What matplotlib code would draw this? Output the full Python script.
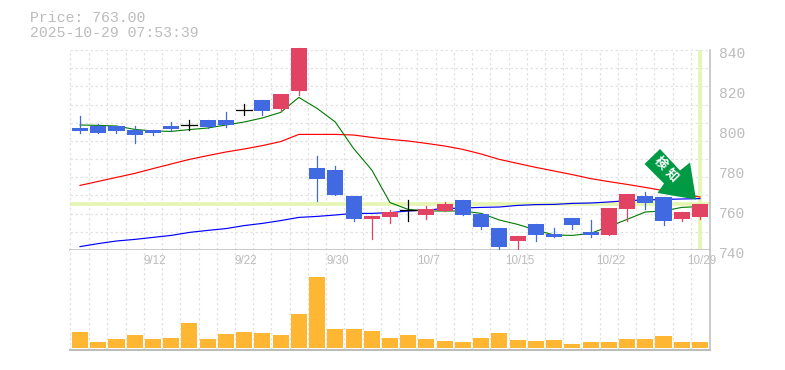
import matplotlib
matplotlib.use("Agg")
import matplotlib.pyplot as plt
from matplotlib.patches import Polygon
from matplotlib.transforms import Affine2D
import numpy as np

plt.rcParams['font.family'] = ['Liberation Mono', 'Noto Sans CJK JP', 'DejaVu Sans']

# ohlc
opens = [801, 802, 802, 800, 800, 802, 802.7, 805, 805, 810, 815, 810.5, 819.5, 781, 780, 767, 755.5, 756.5,
         760, 757.5, 759.5, 765, 758, 751, 744.5, 753, 748, 756, 749, 747.5, 760.5, 767, 766.7, 755.5, 756.5]
closes = [799.5, 798.5, 799.5, 797.5, 798.5, 800.5, 802.7, 801.5, 802.5, 810, 809.5, 818, 841, 775.5, 767.5, 755.5, 757, 759,
          760, 760.3, 763, 757.5, 751.5, 741.5, 747, 747.5, 746.5, 752.5, 747.5, 761, 768, 763.5, 754.5, 759, 763]
highs = [807, 803, 802, 802, 800, 804, 805, 805, 809, 813, 815, 818, 841, 787, 782, 767, 757, 760,
         765, 762, 764, 765, 758, 751, 747, 753, 751, 756, 755, 761, 768, 769, 766.7, 759, 763]
lows = [798.7, 798.5, 798.5, 793.5, 797.5, 799.5, 800, 801, 801.5, 807.7, 807.5, 809.5, 817.5, 764.5, 767.5, 754.5, 745.5, 753.5,
        754.7, 755.5, 759.5, 757.5, 750.5, 739.7, 740.5, 744.5, 746.5, 750.5, 746.5, 747.5, 754.5, 760.5, 752.5, 754.5, 755.5]
ma_short = [802.5, 802.3, 802, 800.3, 799.5, 799.3, 800.2, 801, 802.5, 804, 806, 808.8, 816.3, 810.8, 804, 790.8, 780, 763.7,
            760.3, 759.5, 759.5, 759.5, 758.3, 755, 752.8, 750, 747.5, 747.3, 748.3, 751.7, 755.3, 759, 759.5, 761.3, 761.7]
ma_mid = [772.3, 774.3, 776.3, 778.3, 780.7, 783, 785.3, 787.2, 789, 790.5, 792.2, 794.2, 797.8, 797.8, 797.8, 797.5, 796.3, 795.3,
          794.5, 793.3, 792, 790.3, 788, 785.3, 783.3, 781.3, 779.5, 777.7, 775.7, 774.2, 772.8, 771.3, 769.7, 768, 766.5]
ma_long = [741.7, 743.2, 744.5, 745.3, 746.3, 747.3, 748.8, 749.8, 750.7, 752.2, 753.3, 754.7, 756.3, 756.8, 757.5, 758.3, 758.3, 758.7,
           759.5, 760, 760.7, 761, 761.3, 761.5, 762.3, 762.7, 762.8, 763.3, 763.5, 764, 764.7, 765, 765.3, 765.5, 765.7]
volumes = [16, 6, 9, 13, 9, 10, 25, 9, 14, 16, 15, 13, 34, 71, 19, 19, 17, 10,
           13, 9, 7, 6, 10, 15, 8, 7, 8, 4, 6, 6, 9, 9, 12, 6, 6]
date_pos = [4, 9, 14, 19, 24, 29, 34]
date_labels = ["9/12", "9/22", "9/30", "10/7", "10/15", "10/22", "10/29"]
price_ticks = [740, 760, 780, 800, 820, 840]
last_price = 763

UP = "#e34362"
DOWN = "#4169e1"
GRID = "#e2e2e2"
GREY = "#bcbcbc"
MARK = "#e6f5b0"

fig = plt.figure(figsize=(7.85, 3.7), dpi=100)
ax = fig.add_axes([70 / 785, 120 / 370, 640 / 785, 200 / 370])
vax = fig.add_axes([70 / 785, 20 / 370, 640 / 785, 100 / 370])
xs = np.arange(len(opens))

for a in (ax, vax):
    a.set_xlim(-0.55, 34.55)
    a.set_xticks(xs[:-1] + 0.5, minor=False)
    a.xaxis.grid(True, color=GRID, linestyle=(0, (2, 2)), linewidth=0.9)
    a.set_axisbelow(True)
    a.tick_params(length=0, labelbottom=False, labelleft=False)
    for s in a.spines.values():
        s.set_visible(False)

ax.set_ylim(740, 840)
ax.set_yticks(np.linspace(740, 840, 12))
ax.yaxis.grid(True, color=GRID, linestyle=(0, (2, 2)), linewidth=0.9)
ax.plot([-0.55, -0.55], [740, 840], color=GRID, linestyle=(0, (2, 2)), lw=0.9, clip_on=False)
ax.plot([-0.55, 34.55], [740, 740], color=GREY, lw=1.1, clip_on=False, zorder=2)
ax.axhline(last_price, color=MARK, lw=2.6, zorder=1)
ax.axvline(34, ymin=0.01, color=MARK, lw=2.6, zorder=1)

ax.plot(xs, ma_mid, color="#ff0000", lw=0.85, zorder=2)
ax.plot(xs, ma_long, color="#0000ff", lw=0.85, zorder=2)
ax.plot(xs, ma_short, color="#007a00", lw=0.8, zorder=2)

for i in xs:
    o, c = opens[i], closes[i]
    if o == c:
        col = "black"
        ax.plot([i - 0.44, i + 0.44], [o, o], color=col, lw=0.9, zorder=3, clip_on=False)
    else:
        col = UP if c > o else DOWN
        ax.bar(i, abs(c - o), bottom=min(o, c), width=0.88, color=col, zorder=3, clip_on=False)
    ax.plot([i, i], [lows[i], highs[i]], color=col, lw=0.9, zorder=3, clip_on=False)

vax.set_ylim(-2, 98)
vax.bar(xs, volumes, width=0.88, color="#ffb733", zorder=3)
vax.plot([-0.55, -0.55], [-2, 98], color=GRID, linestyle=(0, (2, 2)), lw=0.9, clip_on=False)
vax.plot([-0.55, 34.55], [-2, -2], color=GREY, lw=1.5, clip_on=False, zorder=4)
vax.plot([34.55, 34.55], [-2, 98], color=GREY, lw=1.1, clip_on=False, zorder=4)
ax.plot([34.55, 34.55], [740, 840], color=GREY, lw=1.1, clip_on=False, zorder=4)

# signal arrow, image coords
to_img = Affine2D().scale(1, -1).translate(0, 370)
arrow = Polygon([(660, 149), (644.5, 164), (664, 183.5), (657.5, 193), (696, 199.5), (690, 162.5), (680, 170.5)],
                closed=True, facecolor="#009944", edgecolor="none", transform=to_img, zorder=6)
fig.add_artist(arrow)
fig.text(660.5 / 785, 1 - 163.5 / 370, "検", color="white", fontsize=9, fontweight="bold", rotation=-45,
         ha="center", va="center", family="Noto Sans CJK JP", zorder=7)
fig.text(672 / 785, 1 - 175.5 / 370, "知", color="white", fontsize=9, fontweight="bold", rotation=-45,
         ha="center", va="center", family="Noto Sans CJK JP", zorder=7)

for p in price_ticks:
    y = 250 - (p - 740) * 2 + 4
    fig.text(719 / 785, 1 - y / 370, str(p), color=GREY, fontsize=10.5, ha="left", va="center")
for i, lab in zip(date_pos, date_labels):
    x = 80 + i * 640 / 35.1 + 2
    fig.text(x / 785, 1 - 261 / 370, lab, color=GREY, fontsize=8.4, family="Liberation Sans", ha="center", va="center")

fig.text(30 / 785, 1 - 18 / 370, "Price: 763.00", color=GREY, fontsize=10.7, ha="left", va="center")
fig.text(30 / 785, 1 - 33 / 370, "2025-10-29 07:53:39", color=GREY, fontsize=10.7, ha="left", va="center")

fig.savefig("out.png", dpi=100)
